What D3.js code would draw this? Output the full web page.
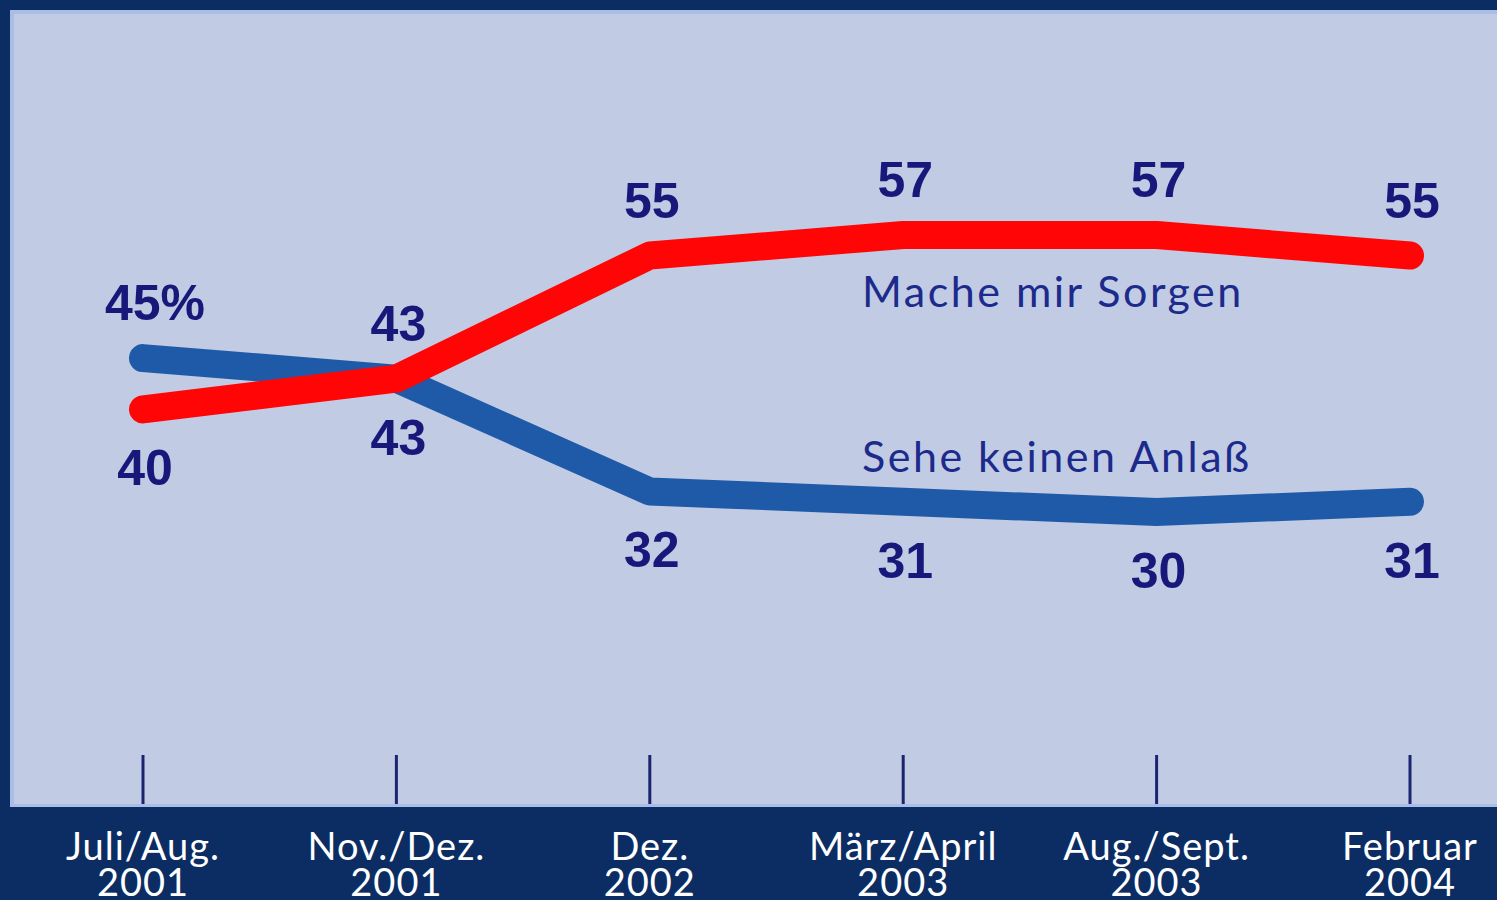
<!DOCTYPE html>
<html>
<head>
<meta charset="utf-8">
<script src="https://cdn.jsdelivr.net/npm/d3@7"></script>
<style>
  html, body { margin: 0; padding: 0; background: #0b2d63; }
  svg { display: block; }
</style>
</head>
<body>
<svg id="chart" width="1497" height="900"></svg>
<script>
// survey waves (x categories)
var waves = ['Juli/Aug.|2001', 'Nov./Dez.|2001', 'Dez.|2002', 'März/April|2003', 'Aug./Sept.|2003', 'Februar|2004']
// "Mache mir Sorgen" in percent
var sorgen = [40, 43, 55, 57, 57, 55]
// "Sehe keinen Anlaß" in percent
var keinAnlass = [45, 43, 32, 31, 30, 31]
var seriesNames = ['Mache mir Sorgen', 'Sehe keinen Anlaß']

var W = 1497, H = 900
var svg = d3.select('#chart')

// dark frame + light panel
svg.append('rect').attr('width', W).attr('height', H).attr('fill', '#0b2d63')
svg.append('rect')
    .attr('x', 10).attr('y', 10)
    .attr('width', W - 10).attr('height', 797)
    .attr('fill', '#a9bde6')
svg.append('rect')
    .attr('x', 14).attr('y', 14)
    .attr('width', W - 14).attr('height', 790)
    .attr('fill', '#c1cbe4')

var x = d3.scalePoint()
    .domain(waves)
    .range([143, 1410])

var y = d3.scaleLinear()
    .domain([30, 57])
    .range([512, 235])

// tick marks along the bottom of the panel
svg.append('g').selectAll('line')
    .data(waves)
    .enter()
    .append('line')
    .attr('x1', function(d) { return x(d) })
    .attr('x2', function(d) { return x(d) })
    .attr('y1', 755)
    .attr('y2', 804)
    .style('stroke', '#1c2470')
    .style('stroke-width', 3)

// category labels in the dark band
var cats = svg.append('g').selectAll('text')
    .data(waves)
    .enter()
    .append('text')
    .attr('x', function(d) { return x(d) })
    .attr('y', 860)
    .attr('text-anchor', 'middle')
    .style('font-family', 'Lato, "DejaVu Sans", sans-serif')
    .style('font-size', '38px')
    .style('letter-spacing', '1px')
    .style('fill', '#ffffff')
cats.append('tspan')
    .attr('x', function(d) { return x(d) })
    .text(function(d) { return d.split('|')[0] })
cats.append('tspan')
    .attr('x', function(d) { return x(d) })
    .attr('dy', 36)
    .text(function(d) { return d.split('|')[1] })

var line = d3.line()
    .x(function(d, i) { return x(waves[i]) })
    .y(function(d) { return y(d) })

// blue first, red drawn over it
svg.append('path')
    .datum(keinAnlass)
    .attr('d', line)
    .style('fill', 'none')
    .style('stroke', '#1f5aa8')
    .style('stroke-width', 28)
    .style('stroke-linecap', 'round')
    .style('stroke-linejoin', 'round')

svg.append('path')
    .datum(sorgen)
    .attr('d', line)
    .style('fill', 'none')
    .style('stroke', '#ff0505')
    .style('stroke-width', 28)
    .style('stroke-linecap', 'round')
    .style('stroke-linejoin', 'round')

// value labels: whichever series is higher gets its label above, the other below
var labels = []
waves.forEach(function(w, i) {
    var hi = Math.max(sorgen[i], keinAnlass[i])
    var lo = Math.min(sorgen[i], keinAnlass[i])
    var top = i == 0 ? keinAnlass[i] + '%' : String(hi)
    labels.push({ w: w, v: hi, t: top, pos: 'above' })
    labels.push({ w: w, v: lo, t: String(lo), pos: 'below' })
})

svg.append('g').selectAll('text')
    .data(labels)
    .enter()
    .append('text')
    .attr('x', function(d) {
        return x(d.w) + (d.t.indexOf('%') >= 0 ? 12 : 2)
    })
    .attr('y', function(d) {
        return d.pos == 'above' ? y(d.v) - 38 : y(d.v) + 76
    })
    .attr('text-anchor', 'middle')
    .text(function(d) { return d.t })
    .style('font-family', '"Liberation Sans", Arial, sans-serif')
    .style('font-weight', 'bold')
    .style('font-size', '50px')
    .style('fill', '#17187a')

// series names
svg.append('text')
    .attr('x', 862)
    .attr('y', y(sorgen[3]) + 72)
    .text(seriesNames[0])
    .style('font-family', 'Lato, "DejaVu Sans", sans-serif')
    .style('font-size', '43px')
    .style('letter-spacing', '2.5px')
    .style('fill', '#1c2a8c')

svg.append('text')
    .attr('x', 862)
    .attr('y', y(keinAnlass[3]) - 30)
    .text(seriesNames[1])
    .style('font-family', 'Lato, "DejaVu Sans", sans-serif')
    .style('font-size', '43px')
    .style('letter-spacing', '2.5px')
    .style('fill', '#1c2a8c')
</script>
</body>
</html>
